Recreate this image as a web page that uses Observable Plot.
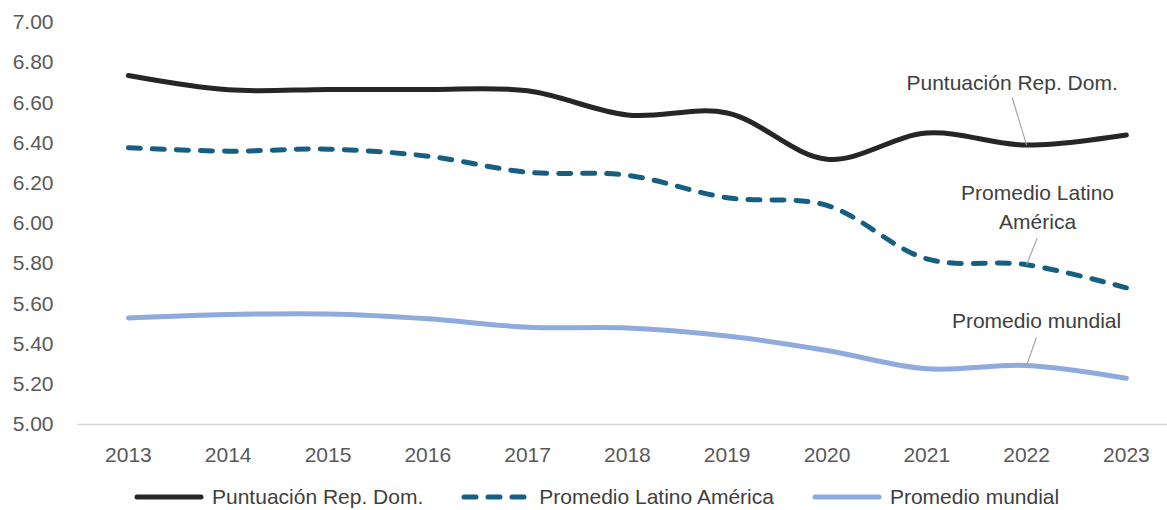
<!DOCTYPE html>
<html>
<head>
<meta charset="utf-8">
<script src="https://cdn.jsdelivr.net/npm/d3@7"></script>
<script src="https://cdn.jsdelivr.net/npm/@observablehq/plot@0.6"></script>
<style>
  body { margin: 0; background: #fff; font-family: "Liberation Sans", Arial, sans-serif; }
  #wrap { position: relative; width: 1167px; height: 510px; }
  #legend { position: absolute; left: 134px; top: 484px; height: 26px; display: flex; align-items: center;
            font-size: 21px; color: #404040; white-space: nowrap; }
  .item { display: flex; align-items: center; margin-right: 38px; }
  .item svg { margin-right: 8px; }
</style>
</head>
<body>
<div id="wrap">
  <div id="chart"></div>
  <div id="legend"></div>
</div>
<script>
const years = [2013, 2014, 2015, 2016, 2017, 2018, 2019, 2020, 2021, 2022, 2023];
const repDom  = [6.736, 6.665, 6.667, 6.667, 6.66, 6.54, 6.55, 6.32, 6.45, 6.39, 6.44];
const latam   = [6.377, 6.36, 6.37, 6.335, 6.255, 6.24, 6.128, 6.09, 5.824, 5.795, 5.68];
const mundial = [5.53, 5.547, 5.55, 5.526, 5.484, 5.48, 5.44, 5.368, 5.277, 5.294, 5.23];
const seriesNames = ["Puntuación Rep. Dom.", "Promedio Latino América", "Promedio mundial"];
const seriesColors = ["#262626", "#156082", "#8faadc"];
const yTicks = [5.0, 5.2, 5.4, 5.6, 5.8, 6.0, 6.2, 6.4, 6.6, 6.8, 7.0];

// annotation labels (data coordinates)
const labelTexts = ["Puntuación Rep. Dom.", "Promedio Latino\nAmérica", "Promedio mundial"];
const labelX = [2021.855, 2022.11, 2022.1];
const labelY = [6.711, 6.092, 5.527];
const leaderYear = 2022;
const leaderStartX = [2021.855, 2022.105, 2022.098];
const leaderStartY = [6.627, 5.925, 5.433];
const leaderEndY = [repDom[9], latam[9], mundial[9]];

const toRows = (vals, name) => years.map((y, i) => ({year: y, value: vals[i], series: name}));
const rowsRep = toRows(repDom, seriesNames[0]);
const rowsLat = toRows(latam, seriesNames[1]);
const rowsMun = toRows(mundial, seriesNames[2]);
const labels = labelTexts.map((t, i) => ({text: t, x: labelX[i], y: labelY[i]}));
const leaders = labelTexts.map((t, i) => ({x1: leaderStartX[i], y1: leaderStartY[i], x2: leaderYear, y2: leaderEndY[i]}));

const chart = Plot.plot({
  width: 1167,
  height: 475,
  marginLeft: 77,
  marginRight: 0,
  marginTop: 22,
  marginBottom: 51,
  style: {fontFamily: "'Liberation Sans', Arial, sans-serif", fontSize: "21px", color: "#595959", background: "#fff"},
  x: {domain: [2012.49, 2023.412]},
  y: {domain: [5, 7]},
  marks: [
    Plot.axisY({ticks: yTicks, tickFormat: d3.format(".2f"), tickSize: 0, tickPadding: 24, label: null, fontSize: 21}),
    Plot.axisX({ticks: years, tickFormat: d3.format("d"), tickSize: 0, tickPadding: 23, label: null, fontSize: 21}),
    Plot.ruleY([5], {stroke: "#d9d9d9", strokeWidth: 1.5}),
    Plot.line(rowsMun, {x: "year", y: "value", stroke: seriesColors[2], strokeWidth: 5, curve: "catmull-rom"}),
    Plot.line(rowsLat, {x: "year", y: "value", stroke: seriesColors[1], strokeWidth: 5, curve: "catmull-rom",
      strokeDasharray: "12,12", strokeLinecap: "round"}),
    Plot.line(rowsRep, {x: "year", y: "value", stroke: seriesColors[0], strokeWidth: 5, curve: "catmull-rom"}),
    Plot.link(leaders, {x1: "x1", y1: "y1", x2: "x2", y2: "y2", stroke: "#a6a6a6", strokeWidth: 1.2}),
    Plot.text(labels, {x: "x", y: "y", text: "text", fill: "#404040", fontSize: 21, lineHeight: 1.38, textAnchor: "middle"})
  ]
});
document.getElementById("chart").appendChild(chart);

// legend
const legend = document.getElementById("legend");
seriesNames.forEach((name, i) => {
  const item = document.createElement("div");
  item.className = "item";
  const dash = i === 1 ? ' stroke-dasharray="12,12"' : '';
  item.innerHTML = `<svg width="70" height="12"><line x1="3" y1="6" x2="${i === 1 ? 65 : 67}" y2="6" stroke="${seriesColors[i]}" stroke-width="5" stroke-linecap="round"${dash}/></svg><span>${name}</span>`;
  legend.appendChild(item);
});
</script>
</body>
</html>
